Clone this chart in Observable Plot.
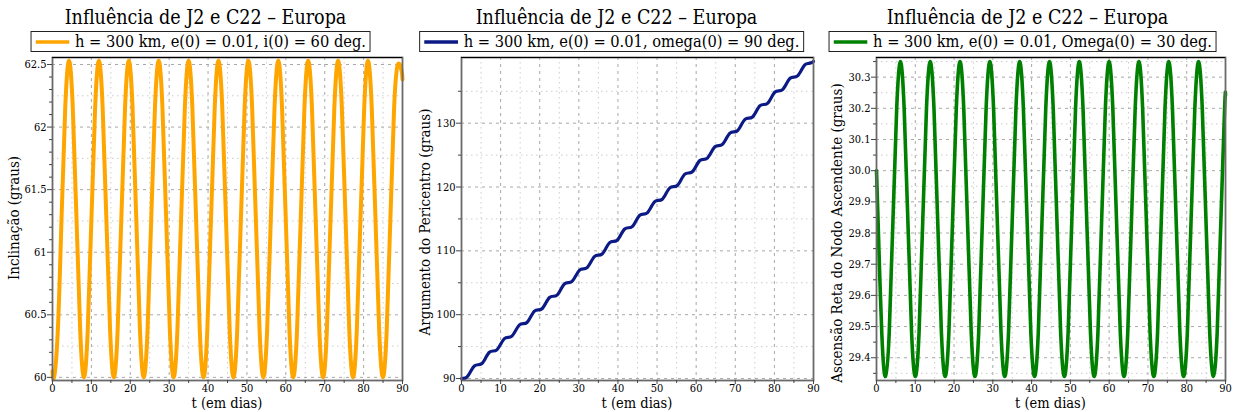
<!DOCTYPE html>
<html><head><meta charset="utf-8">
<script src="https://cdn.jsdelivr.net/npm/d3@7"></script>
<script src="https://cdn.jsdelivr.net/npm/@observablehq/plot@0.6"></script>
<style>
body{margin:0;background:#fff;}
#wrap{position:relative;width:1233px;height:412px;overflow:hidden;font-family:"DejaVu Serif Condensed","DejaVu Serif",serif;font-stretch:condensed;color:#000}
.panel{position:absolute;top:0;width:411px;height:412px}
.title{position:absolute;top:8px;left:0;width:100%;text-align:center;font-size:19.5px;line-height:20px;white-space:nowrap}
.legend{position:absolute;top:31px;left:50%;transform:translateX(calc(-50% - 5px));height:21px;border:1px solid #222;display:flex;align-items:center;font-size:16.3px;white-space:nowrap;padding:0 4px 0 4px;background:#fff;box-sizing:border-box}
.legend svg{margin-right:6px}
.plot{position:absolute;top:55px;left:0}
.ylab{position:absolute;font-size:15px;line-height:16px;white-space:nowrap;transform:translate(-50%,-50%) rotate(-90deg)}
.xlab{position:absolute;top:396px;font-size:14.5px;line-height:14px;white-space:nowrap;transform:translateX(-50%)}
</style></head><body><div id="wrap"></div>
<script>
// time (days)
const days = [0, 0.40, 1.36, 2.32, 3.28, 4.24, 5.21, 6.17, 7.13, 8.09, 9.05, 10.01, 10.97, 11.93, 12.89, 13.85, 14.82, 15.78, 16.74, 17.70, 18.66, 19.62, 20.58, 21.54, 22.50, 23.46, 24.43, 25.39, 26.35, 27.31, 28.27, 29.23, 30.19, 31.15, 32.11, 33.07, 34.04, 35.00, 35.96, 36.92, 37.88, 38.84, 39.80, 40.76, 41.72, 42.68, 43.65, 44.61, 45.57, 46.53, 47.49, 48.45, 49.41, 50.37, 51.33, 52.29, 53.26, 54.22, 55.18, 56.14, 57.10, 58.06, 59.02, 59.98, 60.94, 61.90, 62.87, 63.83, 64.79, 65.75, 66.71, 67.67, 68.63, 69.59, 70.55, 71.51, 72.48, 73.44, 74.40, 75.36, 76.32, 77.28, 78.24, 79.20, 80.16, 81.12, 82.09, 83.05, 84.01, 84.97, 85.93, 86.89, 87.85, 88.81, 89.77, 90];

// inclination (deg)
const inclinacao = [60.05,
 60.00, 60.37, 61.27, 62.16, 62.53, 62.16, 61.27, 60.37,
 60.00, 60.37, 61.27, 62.16, 62.53, 62.16, 61.27, 60.37,
 60.00, 60.37, 61.27, 62.16, 62.53, 62.16, 61.27, 60.37,
 60.00, 60.37, 61.27, 62.16, 62.53, 62.16, 61.27, 60.37,
 60.00, 60.37, 61.27, 62.16, 62.53, 62.16, 61.27, 60.37,
 60.00, 60.37, 61.27, 62.16, 62.53, 62.16, 61.27, 60.37,
 60.00, 60.37, 61.27, 62.16, 62.53, 62.16, 61.27, 60.37,
 60.00, 60.37, 61.27, 62.16, 62.53, 62.16, 61.27, 60.37,
 60.00, 60.37, 61.27, 62.16, 62.53, 62.16, 61.27, 60.37,
 60.00, 60.37, 61.27, 62.16, 62.53, 62.16, 61.27, 60.37,
 60.00, 60.37, 61.27, 62.16, 62.53, 62.16, 61.27, 60.37,
 60.00, 60.37, 61.27, 62.16, 62.50, 62.45,
 62.38];

// argument of pericentre (deg)
const argumento = [90.00,
 90.01, 90.20, 91.09, 91.97, 92.16, 92.35, 93.23, 94.12, 94.31, 94.49,
 95.38, 96.26, 96.45, 96.64, 97.52, 98.41, 98.60, 98.78, 99.67, 100.56,
 100.74, 100.93, 101.81, 102.70, 102.89, 103.07, 103.96, 104.85, 105.03, 105.22,
 106.11, 106.99, 107.18, 107.37, 108.25, 109.14, 109.32, 109.51, 110.40, 111.28,
 111.47, 111.66, 112.54, 113.43, 113.62, 113.80, 114.69, 115.58, 115.76, 115.95,
 116.83, 117.72, 117.91, 118.09, 118.98, 119.87, 120.05, 120.24, 121.13, 122.01,
 122.20, 122.39, 123.27, 124.16, 124.34, 124.53, 125.42, 126.30, 126.49, 126.68,
 127.56, 128.45, 128.64, 128.82, 129.71, 130.60, 130.78, 130.97, 131.85, 132.74,
 132.93, 133.11, 134.00, 134.89, 135.07, 135.26, 136.15, 137.03, 137.22, 137.41,
 138.29, 139.18, 139.37, 139.55,
 139.70];

// right ascension of the ascending node (deg)
const ascensao = [30.00,
 29.84, 29.48, 29.34, 29.48, 29.84, 30.20, 30.35, 30.20,
 29.84, 29.48, 29.34, 29.48, 29.84, 30.20, 30.35, 30.20,
 29.84, 29.48, 29.34, 29.48, 29.84, 30.20, 30.35, 30.20,
 29.84, 29.48, 29.34, 29.48, 29.84, 30.20, 30.35, 30.20,
 29.84, 29.48, 29.34, 29.48, 29.84, 30.20, 30.35, 30.20,
 29.84, 29.48, 29.34, 29.48, 29.84, 30.20, 30.35, 30.20,
 29.84, 29.48, 29.34, 29.48, 29.84, 30.20, 30.35, 30.20,
 29.84, 29.48, 29.34, 29.48, 29.84, 30.20, 30.35, 30.20,
 29.84, 29.48, 29.34, 29.48, 29.84, 30.20, 30.35, 30.20,
 29.84, 29.48, 29.34, 29.48, 29.84, 30.20, 30.35, 30.20,
 29.84, 29.48, 29.34, 29.48, 29.84, 30.20, 30.35, 30.20,
 29.84, 29.48, 29.34, 29.48, 29.84, 30.20,
 30.24];

const titulo = "Influência de J2 e C22 – Europa";
const xLabel = "t (em dias)";
const xMajor = [0, 10, 20, 30, 40, 50, 60, 70, 80, 90];
const xMinor = [5, 15, 25, 35, 45, 55, 65, 75, 85];

const y1Major = [60, 60.5, 61, 61.5, 62, 62.5];
const y1Minor = [60.1, 60.2, 60.3, 60.4, 60.6, 60.7, 60.8, 60.9, 61.1, 61.2, 61.3, 61.4, 61.6, 61.7, 61.8, 61.9, 62.1, 62.2, 62.3, 62.4];
const y1Grid2 = [60.25, 60.75, 61.25, 61.75, 62.25];

const y2Major = [90, 100, 110, 120, 130];
const y2Minor = [95, 105, 115, 125, 135];

const y3Major = [29.4, 29.5, 29.6, 29.7, 29.8, 29.9, 30.0, 30.1, 30.2, 30.3];
const y3Minor = [29.35, 29.45, 29.55, 29.65, 29.75, 29.85, 29.95, 30.05, 30.15, 30.25, 30.35];

const panels = [
  {left: 0, values: inclinacao, color: "#FFA500", sw: 4, yDomain: [59.975, 62.556],
   yMajor: y1Major, yMinor: y1Minor, yGrid2: y1Grid2, fmt: d => String(d),
   yLabel: "Inclinação (graus)", ml: 52, mr: 9, ylx: 14, yly: 218,
   legend: "h = 300 km, e(0) = 0.01, i(0) = 60 deg."},
  {left: 411, values: argumento, color: "#0b1a85", sw: 3.2, yDomain: [89.69, 140.29],
   yMajor: y2Major, yMinor: y2Minor, yGrid2: y2Minor, fmt: d => String(d),
   yLabel: "Argumento do Pericentro (graus)", ml: 50, mr: 9, ylx: 14, yly: 222,
   legend: "h = 300 km, e(0) = 0.01, omega(0) = 90 deg."},
  {left: 822, values: ascensao, color: "#008000", sw: 3.6, yDomain: [29.327, 30.363],
   yMajor: y3Major, yMinor: y3Minor, yGrid2: y3Minor, fmt: d3.format(".1f"),
   yLabel: "Ascensão Reta do Nodo Ascendente (graus)", ml: 54, mr: 8, ylx: 15, yly: 233,
   legend: "h = 300 km, e(0) = 0.01, Omega(0) = 30 deg."}
];

const wrap = document.getElementById("wrap");
const FONT = '"DejaVu Serif Condensed","DejaVu Serif",serif';

for (const p of panels) {
  const div = document.createElement("div");
  div.className = "panel";
  div.style.left = p.left + "px";
  wrap.appendChild(div);

  const t = document.createElement("div");
  t.className = "title"; t.textContent = titulo;
  div.appendChild(t);

  const lg = document.createElement("div");
  lg.className = "legend";
  lg.innerHTML = `<svg width="34" height="8"><line x1="0" x2="34" y1="4" y2="4" stroke="${p.color}" stroke-width="3.5"/></svg><span></span>`;
  lg.querySelector("span").textContent = p.legend;
  div.appendChild(lg);

  const data = days.map((d, i) => ({t: d, v: p.values[i]}));
  const W = 411, H = 357;
  const chart = Plot.plot({
    width: W, height: H,
    marginLeft: p.ml, marginRight: p.mr, marginTop: 2, marginBottom: 32,
    x: {domain: [0, 90]},
    y: {domain: p.yDomain},
    style: {fontFamily: FONT, background: "transparent", overflow: "visible"},
    marks: [
      Plot.gridX({ticks: xMinor, stroke: "#cdcdcd", strokeOpacity: 1, strokeDasharray: "1.5,3.5"}),
      Plot.gridY({ticks: p.yGrid2, stroke: "#cdcdcd", strokeOpacity: 1, strokeDasharray: "1.5,3.5"}),
      Plot.gridX({ticks: xMajor.slice(1, -1), stroke: "#a8a8a8", strokeOpacity: 1, strokeDasharray: "3,4"}),
      Plot.gridY({ticks: p.yMajor, stroke: "#a8a8a8", strokeOpacity: 1, strokeDasharray: "3,4"}),
      Plot.line(data, {x: "t", y: "v", stroke: p.color, strokeWidth: p.sw, curve: "natural"}),
      Plot.frame({stroke: "#6a6a6a", strokeWidth: 1.8}),
      Plot.ruleY([p.yDomain[1]], {stroke: "#000", strokeWidth: 1.2}),
      Plot.axisX({ticks: xMajor, tickSize: 4, tickPadding: 0, tickFormat: d => String(d), label: null, fontSize: 11, stroke: "#444", fill: "#000"}),
      Plot.axisX({ticks: xMinor, tickSize: 3, text: null, label: null, stroke: "#444"}),
      Plot.axisY({ticks: p.yMajor, tickSize: 5, tickPadding: 1, tickFormat: p.fmt, label: null, fontSize: 11, stroke: "#444", fill: "#000"}),
      Plot.axisY({ticks: p.yMinor, tickSize: 3, text: null, label: null, stroke: "#444"})
    ]
  });
  chart.classList.add("plot");
  div.appendChild(chart);

  const yl = document.createElement("div");
  yl.className = "ylab"; yl.textContent = p.yLabel;
  yl.style.left = p.ylx + "px";
  yl.style.top = p.yly + "px";
  div.appendChild(yl);

  const xl = document.createElement("div");
  xl.className = "xlab"; xl.textContent = xLabel;
  xl.style.left = (p.ml + (W - p.ml - p.mr) / 2) + "px";
  div.appendChild(xl);
}
</script>
</body></html>
